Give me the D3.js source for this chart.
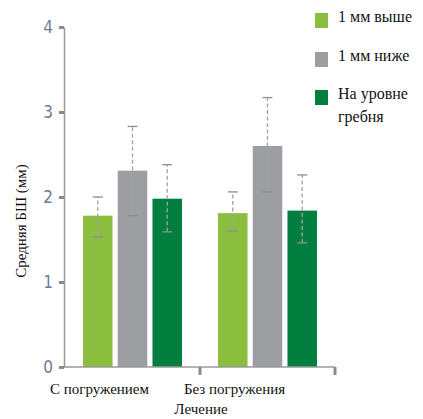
<!DOCTYPE html>
<html>
<head>
<meta charset="utf-8">
<script src="https://cdn.jsdelivr.net/npm/d3@7"></script>
<style>
  body { margin: 0; background: #fff; }
  svg { display: block; }
  text.serif { font-family: "Liberation Serif", "DejaVu Serif", "Noto Serif", serif; }
</style>
</head>
<body>
<div id="chart"></div>
<script>
// data
const groups = ["С погружением", "Без погружения"];
const series = ["1 мм выше", "1 мм ниже", "На уровне гребня"];
const means = [
  [1.78, 2.31, 1.98],
  [1.81, 2.60, 1.84]
];
const lows = [
  [1.53, 1.78, 1.59],
  [1.60, 2.06, 1.46]
];
const highs = [
  [2.00, 2.83, 2.38],
  [2.06, 3.17, 2.26]
];
const yTicks = [0, 1, 2, 3, 4];
const colors = ["#8bbd3f", "#9d9ea2", "#027f3f"];

const width = 423, height = 419;
const svg = d3.select("#chart").append("svg")
  .attr("width", width)
  .attr("height", height);

// scales
const y = d3.scaleLinear().domain([0, 4]).range([367, 27]);
const x0 = d3.scaleBand().domain(groups).range([65, 335]);
const x1 = d3.scaleBand().domain(series).range([18, 117]).paddingInner(0.15);

// bars
const rows = [];
groups.forEach((g, i) => series.forEach((s, j) => {
  rows.push({ g, s, j, v: means[i][j], lo: lows[i][j], hi: highs[i][j] });
}));

svg.append("g").selectAll("rect")
  .data(rows)
  .enter().append("rect")
  .attr("x", d => x0(d.g) + x1(d.s))
  .attr("y", d => y(d.v))
  .attr("width", x1.bandwidth())
  .attr("height", d => y(0) - y(d.v))
  .attr("fill", d => colors[d.j]);

// error bars
const err = svg.append("g");
const cx = d => x0(d.g) + x1(d.s) + x1.bandwidth() / 2;
err.selectAll("line.stem")
  .data(rows)
  .enter().append("line")
  .attr("class", "stem")
  .attr("x1", cx).attr("x2", cx)
  .attr("y1", d => y(d.lo)).attr("y2", d => y(d.hi))
  .attr("stroke", "#a3a3a3")
  .attr("stroke-width", 1.3)
  .attr("stroke-dasharray", "4,2.5");
["lo", "hi"].forEach(k => {
  err.selectAll("line.cap-" + k)
    .data(rows)
    .enter().append("line")
    .attr("x1", d => cx(d) - 5).attr("x2", d => cx(d) + 5)
    .attr("y1", d => y(d[k])).attr("y2", d => y(d[k]))
    .attr("stroke", "#8f8f8f")
    .attr("stroke-width", 1.3);
});

// y axis
const yAxisGroup = svg.append("g")
  .attr("transform", "translate(64, 0)")
  .call(d3.axisLeft(y).tickValues(yTicks).tickFormat(d3.format("d"))
    .tickSize(5).tickSizeOuter(0).tickPadding(6));
yAxisGroup.select("path.domain")
  .attr("stroke", "#9a9a9a")
  .attr("stroke-width", 1.5);
yAxisGroup.selectAll("line")
  .attr("stroke", "#8a8a8a")
  .attr("stroke-width", 3);
yAxisGroup.selectAll("text")
  .attr("fill", "#6b7b9b")
  .attr("font-family", "Liberation Sans Narrow, DejaVu Sans Condensed, sans-serif")
  .attr("font-size", 17);

// x axis
const xAxisGroup = svg.append("g")
  .attr("transform", "translate(0, 367)");
xAxisGroup.append("line")
  .attr("x1", 64).attr("x2", x0.range()[1])
  .attr("stroke", "#9a9a9a").attr("stroke-width", 1.5);
xAxisGroup.selectAll("line.tick")
  .data(groups.slice(1).map(g => x0(g)).concat([x0.range()[1]]))
  .enter().append("line")
  .attr("x1", d => d).attr("x2", d => d)
  .attr("y1", 0).attr("y2", 8)
  .attr("stroke", "#8a8a8a").attr("stroke-width", 3);
xAxisGroup.selectAll("text")
  .data(groups)
  .enter().append("text")
  .attr("class", "serif")
  .attr("x", d => x0(d) + x0.bandwidth() / 2 - 33)
  .attr("y", 27)
  .attr("text-anchor", "middle")
  .attr("font-size", 15)
  .attr("fill", "#111")
  .text(d => d);

// axis titles
svg.append("text")
  .attr("class", "serif")
  .attr("x", 201).attr("y", 414)
  .attr("text-anchor", "middle")
  .attr("font-size", 15)
  .attr("fill", "#111")
  .text("Лечение");

svg.append("text")
  .attr("class", "serif")
  .attr("transform", "translate(26, 221) rotate(-90)")
  .attr("text-anchor", "middle")
  .attr("font-size", 15)
  .attr("fill", "#111")
  .text("Средняя БШ (мм)");

// legend
const legendLines = [["1 мм выше"], ["1 мм ниже"], ["На уровне", "гребня"]];
const legendY = [13, 52, 90];
const legend = svg.append("g");
legendLines.forEach((lines, i) => {
  legend.append("rect")
    .attr("x", 315).attr("y", legendY[i])
    .attr("width", 13).attr("height", 15)
    .attr("fill", colors[i]);
  const t = legend.append("text")
    .attr("class", "serif")
    .attr("x", 338).attr("y", legendY[i] + 9)
    .attr("font-size", 16)
    .attr("fill", "#111");
  lines.forEach((l, k) => {
    t.append("tspan").attr("x", 338).attr("dy", k === 0 ? 0 : 23).text(l);
  });
});
</script>
</body>
</html>
